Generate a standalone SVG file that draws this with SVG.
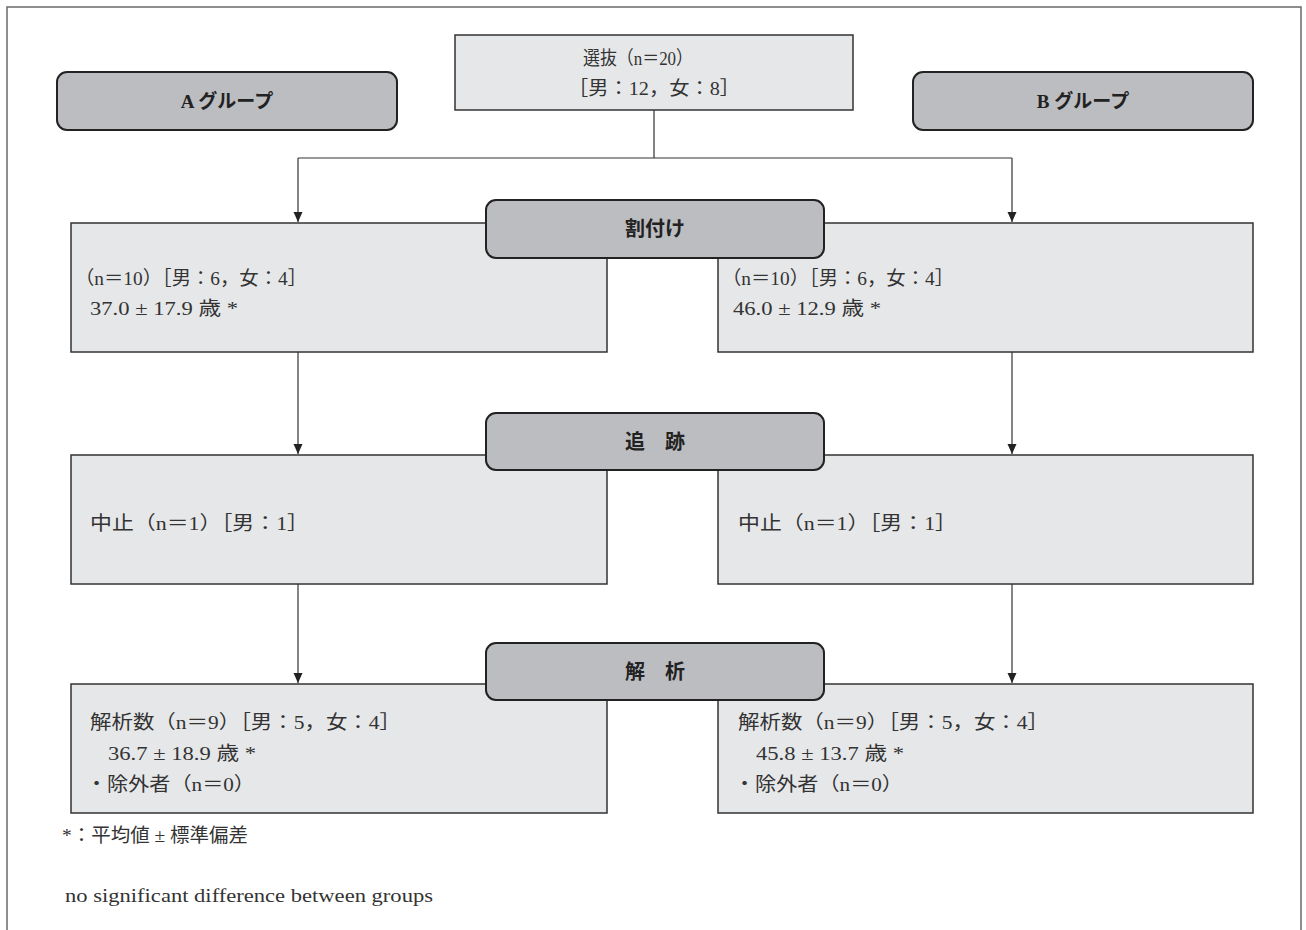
<svg xmlns="http://www.w3.org/2000/svg" width="1306" height="930" viewBox="0 0 1306 930">
<defs>
<style>
.frame{fill:#fff;stroke:#6a6a6a;stroke-width:1.5}
.box{fill:#e6e7e9;stroke:#333;stroke-width:1.5}
.lab{fill:#bcbdc0;stroke:#222;stroke-width:2}
.t{font-family:"Liberation Serif","Noto Sans CJK JP",serif;font-size:19px;fill:#333}
.lt{font-family:"Noto Sans CJK JP","Liberation Sans",sans-serif;font-size:20px;font-weight:bold;fill:#222;text-anchor:middle}
.gt{font-family:"Liberation Serif","Noto Sans CJK JP",serif;font-size:19px;font-weight:bold;fill:#222;text-anchor:middle}
.c{fill:none;stroke:#333;stroke-width:1.2}
</style>
<marker id="ah" markerWidth="10" markerHeight="10" refX="10" refY="4.5" orient="auto" markerUnits="userSpaceOnUse">
<path d="M0,0 L10,4.5 L0,9 Z" fill="#222"/>
</marker>
</defs>
<rect class="frame" x="7" y="7" width="1294" height="940"/>

<g id="connectors">
<path class="c" d="M654,110 V158 M298,158 H1012"/>
<path class="c" d="M298,158 V222" marker-end="url(#ah)"/>
<path class="c" d="M1012,158 V222" marker-end="url(#ah)"/>
<path class="c" d="M298,352 V454" marker-end="url(#ah)"/>
<path class="c" d="M1012,352 V454" marker-end="url(#ah)"/>
<path class="c" d="M298,584 V683" marker-end="url(#ah)"/>
<path class="c" d="M1012,584 V683" marker-end="url(#ah)"/>
</g>

<g id="selection">
<rect class="box" x="455" y="35" width="398" height="75"/>
<text class="t" x="583" y="65" textLength="110" lengthAdjust="spacingAndGlyphs">選抜（n＝20）</text>
<text class="t" x="568" y="95" textLength="172" lengthAdjust="spacingAndGlyphs">［男：12，女：8］</text>
</g>

<g id="groupA">
<rect class="lab" x="57" y="72" width="340" height="58" rx="10"/>
<text class="gt" x="227" y="108">A グループ</text>
</g>
<g id="groupB">
<rect class="lab" x="913" y="72" width="340" height="58" rx="10"/>
<text class="gt" x="1083" y="108">B グループ</text>
</g>

<g id="allocA">
<rect class="box" x="71" y="223" width="536" height="129"/>
<text class="t" x="75" y="285" textLength="232" lengthAdjust="spacingAndGlyphs">（n＝10）［男：6，女：4］</text>
<text class="t" x="90" y="315" textLength="148" lengthAdjust="spacingAndGlyphs">37.0 ± 17.9 歳 *</text>
</g>
<g id="allocB">
<rect class="box" x="718" y="223" width="535" height="129"/>
<text class="t" x="722" y="285" textLength="232" lengthAdjust="spacingAndGlyphs">（n＝10）［男：6，女：4］</text>
<text class="t" x="733" y="315" textLength="148" lengthAdjust="spacingAndGlyphs">46.0 ± 12.9 歳 *</text>
</g>
<g id="alloc">
<rect class="lab" x="486" y="200" width="338" height="58" rx="10"/>
<text class="lt" x="655" y="236">割付け</text>
</g>

<g id="followA">
<rect class="box" x="71" y="455" width="536" height="129"/>
<text class="t" x="90" y="530" textLength="219" lengthAdjust="spacingAndGlyphs">中止（n＝1）［男：1］</text>
</g>
<g id="followB">
<rect class="box" x="718" y="455" width="535" height="129"/>
<text class="t" x="738" y="530" textLength="219" lengthAdjust="spacingAndGlyphs">中止（n＝1）［男：1］</text>
</g>
<g id="follow">
<rect class="lab" x="486" y="413" width="338" height="57" rx="10"/>
<text class="lt" x="655" y="449">追　跡</text>
</g>

<g id="analysisA">
<rect class="box" x="71" y="684" width="536" height="129"/>
<text class="t" x="90" y="729" textLength="311" lengthAdjust="spacingAndGlyphs">解析数（n＝9）［男：5，女：4］</text>
<text class="t" x="108" y="760" textLength="148" lengthAdjust="spacingAndGlyphs">36.7 ± 18.9 歳 *</text>
<text class="t" x="86" y="791" textLength="169" lengthAdjust="spacingAndGlyphs">・除外者（n＝0）</text>
</g>
<g id="analysisB">
<rect class="box" x="718" y="684" width="535" height="129"/>
<text class="t" x="738" y="729" textLength="311" lengthAdjust="spacingAndGlyphs">解析数（n＝9）［男：5，女：4］</text>
<text class="t" x="756" y="760" textLength="148" lengthAdjust="spacingAndGlyphs">45.8 ± 13.7 歳 *</text>
<text class="t" x="734" y="791" textLength="169" lengthAdjust="spacingAndGlyphs">・除外者（n＝0）</text>
</g>
<g id="analysis">
<rect class="lab" x="486" y="643" width="338" height="57" rx="10"/>
<text class="lt" x="655" y="679">解　析</text>
</g>

<g id="notes">
<text class="t" x="62" y="842" textLength="186" lengthAdjust="spacingAndGlyphs">*：平均値 ± 標準偏差</text>
<text class="t" x="65" y="902" textLength="368" lengthAdjust="spacingAndGlyphs">no significant difference between groups</text>
</g>
</svg>
